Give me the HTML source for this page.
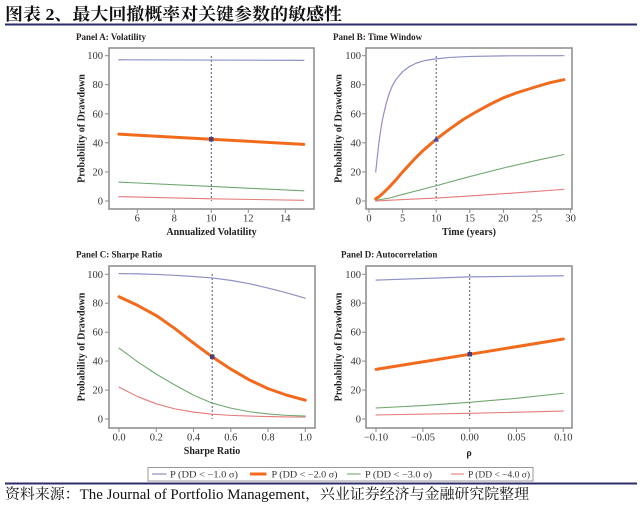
<!DOCTYPE html>
<html><head><meta charset="utf-8">
<style>
html,body{margin:0;padding:0;background:#fff;}
svg{display:block;}
.tk{font-family:"Liberation Serif",serif;font-size:10.5px;fill:#333;}
.pt{font-family:"Liberation Serif",serif;font-size:9px;font-weight:bold;fill:#222;}
.al{font-family:"Liberation Serif",serif;font-size:10px;font-weight:bold;fill:#222;}
.lg{font-family:"Liberation Serif",serif;font-size:9.5px;fill:#333;}
.fr{fill:none;stroke:#8a8a8a;stroke-width:1.5;}
.ln{fill:none;vector-effect:non-scaling-stroke;stroke-linejoin:round;stroke-linecap:round;}
.b{stroke:#8e90c6;stroke-width:1.2;}
.o{stroke:#f26b1d;stroke-width:3;}
.g{stroke:#6fa86f;stroke-width:1.1;}
.r{stroke:#e57b7b;stroke-width:1.1;}
.ds{stroke:#555577;stroke-width:1;stroke-dasharray:2,2;}
.tm{stroke:#8a8a8a;stroke-width:1;}
</style></head>
<body>
<svg width="640" height="510" viewBox="0 0 640 510" xmlns="http://www.w3.org/2000/svg">
<rect width="640" height="510" fill="#fff"/>
<text x="5" y="20" textLength="337" lengthAdjust="spacingAndGlyphs" style="font-family:'Liberation Serif','Noto Serif CJK SC',serif;font-size:17px;font-weight:bold;fill:#111;">图表 2、最大回撤概率对关键参数的敏感性</text>
<line x1="5" y1="24.5" x2="637" y2="24.5" stroke="#2b2d6b" stroke-width="2"/>

<!-- Panel A -->
<text class="pt" x="76" y="40">Panel A: Volatility</text>
<rect class="fr" x="109" y="48" width="205" height="161"/>
<g class="tm">
<line x1="105" y1="201" x2="109" y2="201"/><line x1="105" y1="171.9" x2="109" y2="171.9"/><line x1="105" y1="142.8" x2="109" y2="142.8"/><line x1="105" y1="113.8" x2="109" y2="113.8"/><line x1="105" y1="84.7" x2="109" y2="84.7"/><line x1="105" y1="55.7" x2="109" y2="55.7"/>
<line x1="137.3" y1="209" x2="137.3" y2="213"/><line x1="174.3" y1="209" x2="174.3" y2="213"/><line x1="211.3" y1="209" x2="211.3" y2="213"/><line x1="248.3" y1="209" x2="248.3" y2="213"/><line x1="285.3" y1="209" x2="285.3" y2="213"/>
</g>
<g class="tk" text-anchor="end">
<text x="103" y="204.5">0</text><text x="103" y="175.4">20</text><text x="103" y="146.3">40</text><text x="103" y="117.3">60</text><text x="103" y="88.2">80</text><text x="103" y="59.2">100</text>
</g>
<g class="tk" text-anchor="middle">
<text x="137.3" y="221.5">6</text><text x="174.3" y="221.5">8</text><text x="211.3" y="221.5">10</text><text x="248.3" y="221.5">12</text><text x="285.3" y="221.5">14</text>
</g>
<text class="al" x="211.5" y="235" text-anchor="middle">Annualized Volatility</text>
<text class="al" transform="translate(84.5,128.5) rotate(-90)" text-anchor="middle">Probability of Drawdown</text>
<line class="ds" x1="211.3" y1="56" x2="211.3" y2="201"/>
<g transform="matrix(18.5,0,0,-1.453,26.3,201)">
<polyline class="ln b" points="5,97.2 15,96.8"/>
<polyline class="ln g" points="5,13 10,10 15,7"/>
<polyline class="ln r" points="5,3 10,1.5 15,0.5"/>
<polyline class="ln o" points="5,46 10,42.5 15,39"/>
</g>
<rect x="209" y="137" width="4.5" height="4.5" fill="#4a3f7a"/>

<!-- Panel B -->
<text class="pt" x="333" y="40">Panel B: Time Window</text>
<rect class="fr" x="366" y="48" width="206" height="161"/>
<g class="tm">
<line x1="362" y1="201" x2="366" y2="201"/><line x1="362" y1="171.9" x2="366" y2="171.9"/><line x1="362" y1="142.8" x2="366" y2="142.8"/><line x1="362" y1="113.8" x2="366" y2="113.8"/><line x1="362" y1="84.7" x2="366" y2="84.7"/><line x1="362" y1="55.7" x2="366" y2="55.7"/>
<line x1="369" y1="209" x2="369" y2="213"/><line x1="402.6" y1="209" x2="402.6" y2="213"/><line x1="436.2" y1="209" x2="436.2" y2="213"/><line x1="469.8" y1="209" x2="469.8" y2="213"/><line x1="503.4" y1="209" x2="503.4" y2="213"/><line x1="537" y1="209" x2="537" y2="213"/><line x1="570.6" y1="209" x2="570.6" y2="213"/>
</g>
<g class="tk" text-anchor="end">
<text x="361" y="204.5">0</text><text x="361" y="175.4">20</text><text x="361" y="146.3">40</text><text x="361" y="117.3">60</text><text x="361" y="88.2">80</text><text x="361" y="59.2">100</text>
</g>
<g class="tk" text-anchor="middle">
<text x="369" y="221.5">0</text><text x="402.6" y="221.5">5</text><text x="436.2" y="221.5">10</text><text x="469.8" y="221.5">15</text><text x="503.4" y="221.5">20</text><text x="537" y="221.5">25</text><text x="570.6" y="221.5">30</text>
</g>
<text class="al" x="469" y="235" text-anchor="middle">Time (years)</text>
<text class="al" transform="translate(341.5,128.5) rotate(-90)" text-anchor="middle">Probability of Drawdown</text>
<line class="ds" x1="436.2" y1="56" x2="436.2" y2="201"/>
<g transform="matrix(6.72,0,0,-1.453,369,201)">
<polyline class="ln b" points="1,20 1.25,31 1.5,41 1.75,49 2,56 2.5,66 3,74 3.5,79.5 4,83.5 5,89 6,92.5 7,94.8 8,96.3 9,97.2 10,97.8 12,98.8 15,99.5 20,99.9 29,100"/>
<polyline class="ln g" points="1,0.5 3,2 5,4.5 10,10.5 15,16.8 20,22.7 25,28 29,32"/>
<polyline class="ln r" points="1,0 5,1 10,2 15,3.5 20,5 25,6.7 29,8"/>
<polyline class="ln o" points="1,1.5 1.5,3 2,5 3,9.5 4,14.5 5,20 6,25 7,30 8,34.5 9,38.5 10,42.5 12,49.5 14,56 16,61.5 18,66.5 20,71 22,74.5 25,78.8 27,81.5 29,83.5"/>
</g>
<polygon points="436.2,136 439,141.5 433.4,141.5" fill="#3a4fb0"/>

<!-- Panel C -->
<text class="pt" x="76" y="257.5">Panel C: Sharpe Ratio</text>
<rect class="fr" x="109" y="266" width="206" height="162"/>
<g class="tm">
<line x1="105" y1="419" x2="109" y2="419"/><line x1="105" y1="390.1" x2="109" y2="390.1"/><line x1="105" y1="361.1" x2="109" y2="361.1"/><line x1="105" y1="332.2" x2="109" y2="332.2"/><line x1="105" y1="303.2" x2="109" y2="303.2"/><line x1="105" y1="274.3" x2="109" y2="274.3"/>
<line x1="119" y1="428" x2="119" y2="432"/><line x1="156.3" y1="428" x2="156.3" y2="432"/><line x1="193.5" y1="428" x2="193.5" y2="432"/><line x1="230.8" y1="428" x2="230.8" y2="432"/><line x1="268" y1="428" x2="268" y2="432"/><line x1="305.3" y1="428" x2="305.3" y2="432"/>
</g>
<g class="tk" text-anchor="end">
<text x="103" y="422.5">0</text><text x="103" y="393.6">20</text><text x="103" y="364.6">40</text><text x="103" y="335.7">60</text><text x="103" y="306.7">80</text><text x="103" y="277.8">100</text>
</g>
<g class="tk" text-anchor="middle">
<text x="119" y="440.5">0.0</text><text x="156.3" y="440.5">0.2</text><text x="193.5" y="440.5">0.4</text><text x="230.8" y="440.5">0.6</text><text x="268" y="440.5">0.8</text><text x="305.3" y="440.5">1.0</text>
</g>
<text class="al" x="212" y="454" text-anchor="middle">Sharpe Ratio</text>
<text class="al" transform="translate(84.5,347) rotate(-90)" text-anchor="middle">Probability of Drawdown</text>
<line class="ds" x1="212.2" y1="274" x2="212.2" y2="419"/>
<g transform="matrix(186.3,0,0,-1.447,119,419)">
<polyline class="ln b" points="0,100.5 0.1,100.3 0.2,99.9 0.3,99.3 0.4,98.5 0.5,97.5 0.6,95.8 0.7,93.5 0.8,90.5 0.9,87.2 1,83.5"/>
<polyline class="ln g" points="0,49 0.1,39.5 0.2,31 0.3,23.5 0.4,16.5 0.5,11 0.6,7.5 0.7,5 0.8,3.5 0.9,2.5 1,2"/>
<polyline class="ln r" points="0,22 0.1,15.5 0.2,10.5 0.3,7 0.4,4.8 0.5,3.3 0.6,2.5 0.7,2 0.8,1.7 0.9,1.4 1,1.3"/>
<polyline class="ln o" points="0,84.5 0.1,78.5 0.2,71.5 0.3,62.5 0.4,52.5 0.5,43 0.6,34.5 0.7,27 0.8,21 0.9,16.5 1,13"/>
</g>
<rect x="210" y="354.5" width="4.5" height="4.5" fill="#4a3f7a"/>

<!-- Panel D -->
<text class="pt" x="341" y="257.5">Panel D: Autocorrelation</text>
<rect class="fr" x="366" y="266" width="206" height="162"/>
<g class="tm">
<line x1="362" y1="419" x2="366" y2="419"/><line x1="362" y1="390.1" x2="366" y2="390.1"/><line x1="362" y1="361.1" x2="366" y2="361.1"/><line x1="362" y1="332.2" x2="366" y2="332.2"/><line x1="362" y1="303.2" x2="366" y2="303.2"/><line x1="362" y1="274.3" x2="366" y2="274.3"/>
<line x1="376" y1="428" x2="376" y2="432"/><line x1="422.9" y1="428" x2="422.9" y2="432"/><line x1="469.7" y1="428" x2="469.7" y2="432"/><line x1="516.5" y1="428" x2="516.5" y2="432"/><line x1="563.3" y1="428" x2="563.3" y2="432"/>
</g>
<g class="tk" text-anchor="end">
<text x="361" y="422.5">0</text><text x="361" y="393.6">20</text><text x="361" y="364.6">40</text><text x="361" y="335.7">60</text><text x="361" y="306.7">80</text><text x="361" y="277.8">100</text>
</g>
<g class="tk" text-anchor="middle">
<text x="376" y="440.5">−0.10</text><text x="422.9" y="440.5">−0.05</text><text x="469.7" y="440.5">0.00</text><text x="516.5" y="440.5">0.05</text><text x="563.3" y="440.5">0.10</text>
</g>
<text class="al" x="469" y="456" text-anchor="middle">ρ</text>
<text class="al" transform="translate(341.5,347) rotate(-90)" text-anchor="middle">Probability of Drawdown</text>
<line class="ds" x1="469.7" y1="274" x2="469.7" y2="419"/>
<g transform="matrix(936.5,0,0,-1.447,469.7,419)">
<polyline class="ln b" points="-0.1,96 0,98.2 0.1,99"/>
<polyline class="ln g" points="-0.1,7.6 -0.05,9.3 0,11.5 0.05,14.3 0.1,17.8"/>
<polyline class="ln r" points="-0.1,2.8 0,3.9 0.1,5.5"/>
<polyline class="ln o" points="-0.1,34.3 0,44.7 0.1,55.3"/>
</g>
<rect x="467.5" y="352" width="4.5" height="4.5" fill="#4a3f7a"/>

<!-- Legend -->
<rect x="148" y="467.5" width="385" height="13.5" fill="#fff" stroke="#999" stroke-width="1"/>
<line x1="152" y1="474" x2="166.5" y2="474" stroke="#8e90c6" stroke-width="1.2"/>
<text class="lg" x="170" y="477.5" textLength="68" lengthAdjust="spacingAndGlyphs">P (DD &lt; −1.0 σ)</text>
<line x1="250" y1="474" x2="266.5" y2="474" stroke="#f26b1d" stroke-width="3"/>
<text class="lg" x="271.5" y="477.5" textLength="66" lengthAdjust="spacingAndGlyphs">P (DD &lt; −2.0 σ)</text>
<line x1="347" y1="474" x2="360.5" y2="474" stroke="#6fa86f" stroke-width="1.1"/>
<text class="lg" x="365" y="477.5" textLength="67" lengthAdjust="spacingAndGlyphs">P (DD &lt; −3.0 σ)</text>
<line x1="451" y1="474" x2="464" y2="474" stroke="#e57b7b" stroke-width="1.1"/>
<text class="lg" x="468" y="477.5" textLength="62" lengthAdjust="spacingAndGlyphs">P (DD &lt; −4.0 σ)</text>

<line x1="5" y1="483.5" x2="637" y2="483.5" stroke="#2b2d6b" stroke-width="2"/>
<text x="5" y="499" textLength="524" lengthAdjust="spacingAndGlyphs" style="font-family:'Liberation Serif','Noto Serif CJK SC',serif;font-size:14.5px;fill:#111;">资料来源：The Journal of Portfolio Management，兴业证券经济与金融研究院整理</text>
</svg>
</body></html>
